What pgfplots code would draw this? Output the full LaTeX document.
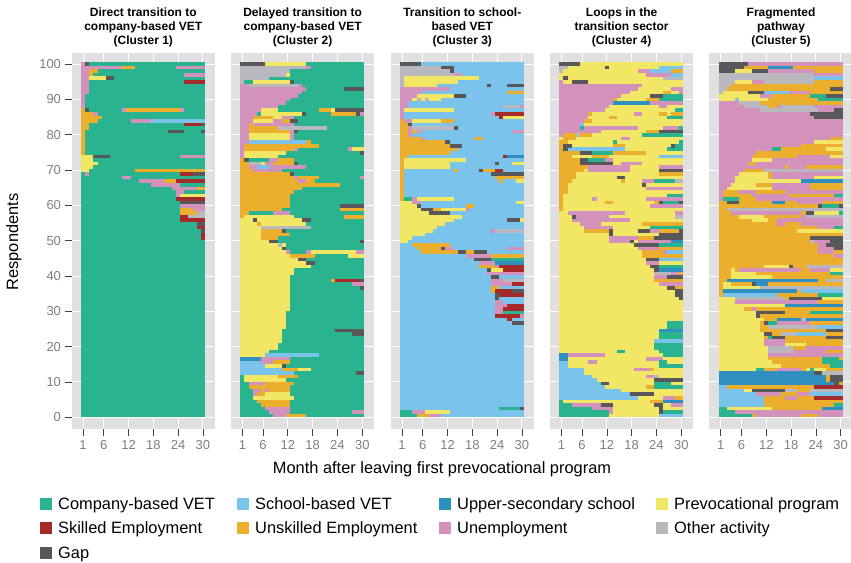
\documentclass[border=0pt]{standalone}
\usepackage{fontspec}
\setmainfont{Liberation Sans}
\usepackage{pgfplots}
\pgfplotsset{compat=1.18}

\definecolor{cv}{HTML}{2AB38F}
\definecolor{sv}{HTML}{7AC4EB}
\definecolor{us}{HTML}{2E8FC0}
\definecolor{pp}{HTML}{F2E665}
\definecolor{se}{HTML}{A52A2A}
\definecolor{ue}{HTML}{EBAF2D}
\definecolor{un}{HTML}{D292BB}
\definecolor{oa}{HTML}{B8B8BE}
\definecolor{gp}{HTML}{58585A}
\definecolor{panelbg}{HTML}{E0E0E0}
\definecolor{ticktxt}{HTML}{7F7F7F}

% one table row: respondent row, first month edge, last month edge
\newcommand\seg[2]{\addplot[forget plot,draw=none,no marks,
    error bars/.cd,x dir=plus,x explicit,error mark=none,
    error bar style={draw=#1,line width=3.62pt}]
  table[row sep=\\,header=false,x index=1,y index=0,
    x error plus expr=\thisrowno{2}-\thisrowno{1}] {#2};}
\newcommand\base[3]{\addplot[forget plot,fill=#1,draw=none] coordinates {(0,#2)(30,#2)(30,#3)(0,#3)} --cycle;}

\pgfplotsset{
  panel/.style={
    scale only axis,width=143.6pt,height=376.2pt,anchor=south west,
    xmin=-2.3,xmax=32.44,ymin=-2.71,ymax=103.26,
    axis background/.style={fill=panelbg},
    axis line style={draw=none},
    grid=major,major grid style={white,line width=1pt},
    xtick={0.5,5.5,11.5,17.5,23.5,29.5},xticklabels={1,6,12,18,24,30},
    ytick={0.5,10.45,20.4,30.35,40.3,50.25,60.2,70.15,80.1,90.05,100},
    tick align=outside,xtick pos=bottom,ytick pos=left,
    major tick length=7pt,
    tick style={color=black!75,line width=0.7pt},
    tick label style={font=\fontsize{13}{15}\selectfont,text=ticktxt},
    xticklabel style={yshift=-1pt},
    /pgf/number format/assume math mode=true,
    title style={align=center,font=\bfseries\fontsize{12}{14}\selectfont,
      anchor=south,at={(axis description cs:0.5,1)},yshift=-4pt},
  },
  inner/.style={yticklabels={},y tick style={draw=none}},
}

\begin{document}
\begin{tikzpicture}[x=1pt,y=1pt]
\path[use as bounding box] (0,0) rectangle (851,-562);

\begin{axis}[panel,at={(71.5pt,-428.7pt)},
  yticklabels={0,10,20,30,40,50,60,70,80,90,100},
  title={Direct transition to\\company-based VET\\(Cluster 1)}]
\base{cv}{0.5}{100.5}
\seg{un}{100 0 1\\99 0 10\\99 23 30\\98 0 2\\97 0 2\\97 25 30\\96 0 2\\95 0 2\\94 0 2\\93 0 2\\92 0 2\\91 0 1\\90 0 1\\89 0 1\\88 0 1\\87 10 11\\87 24 25\\86 3 4\\84 12 17\\74 24 30\\69 1 2\\68 10 12\\67 14 20\\66 17 24\\65 22 28\\64 23 25\\63 23 24\\60 24 30\\59 27 30\\}
\seg{ue}{99 10 13\\98 2 4\\97 2 3\\87 0 1\\87 11 24\\86 0 3\\85 0 5\\84 0 4\\83 0 2\\82 0 2\\81 0 1\\80 0 1\\79 0 1\\78 0 1\\77 0 1\\76 0 1\\75 0 1\\70 13 30\\67 20 23\\65 28 30\\59 24 27\\58 24 28\\}
\seg{pp}{96 2 6\\74 0 3\\73 0 3\\72 0 4\\71 0 3\\70 0 2\\63 24 30\\}
\seg{sv}{84 17 30\\}
\seg{oa}{58 28 30\\57 26 30\\}
\seg{se}{95 25 30\\83 25 29\\69 24 27\\67 23 30\\62 23 30\\57 24 26\\56 24 30\\54 28 30\\52 29 30\\51 29 30\\}
\seg{gp}{100 1 2\\96 6 8\\87 1 2\\83 29 30\\81 21 25\\81 29 30\\74 3 7\\69 27 30\\61 24 30\\55 28 30\\53 29 30\\}
\end{axis}

\begin{axis}[panel,inner,at={(230.8pt,-428.7pt)},
  title={Delayed transition to\\company-based VET\\(Cluster 2)}]
\base{cv}{0.5}{100.5}
\seg{oa}{99 0 16\\98 0 12\\97 0 11\\96 0 7\\95 0 1\\94 2 14\\82 9 21\\72 2 5\\54 5 17\\49 9 10\\}
\seg{un}{99 16 17\\94 0 2\\94 14 15\\93 0 16\\92 0 15\\91 0 14\\90 0 12\\89 0 11\\88 0 9\\87 0 5\\86 0 4\\86 29 30\\85 0 3\\85 10 13\\84 0 3\\84 8 10\\83 0 2\\83 3 13\\82 0 2\\81 0 2\\81 12 13\\80 0 2\\80 12 13\\79 0 2\\79 12 13\\78 0 2\\77 0 1\\76 0 1\\76 13 14\\76 26 27\\75 0 1\\74 0 1\\73 7 9\\72 6 8\\71 2 4\\71 7 16\\70 3 10\\68 13 14\\68 29 30\\67 14 16\\58 8 12\\47 11 12\\47 16 17\\47 28 30\\38 27 30\\17 5 12\\16 5 8\\10 2 6\\8 3 5\\8 6 7\\7 3 4\\3 6 12\\2 7 12\\2 27 30\\1 8 11\\}
\seg{ue}{87 19 22\\86 22 28\\85 3 8\\84 10 12\\83 2 3\\82 2 9\\81 2 12\\78 16 17\\77 1 19\\76 1 13\\73 0 1\\73 9 13\\72 0 2\\72 8 13\\71 0 2\\70 0 3\\69 0 12\\68 0 13\\68 14 19\\67 0 14\\67 16 18\\66 0 24\\65 0 15\\64 0 13\\63 0 12\\62 0 12\\61 0 12\\60 0 12\\59 0 10\\59 24 30\\58 0 2\\57 0 1\\57 25 30\\55 4 5\\53 5 10\\52 5 12\\51 5 9\\46 12 18\\39 22 23\\16 8 12\\14 10 14\\12 9 14\\10 6 13\\9 2 12\\8 5 6\\8 7 12\\7 4 6\\5 4 12\\4 5 12\\1 11 16\\}
\seg{pp}{100 6 16\\97 11 12\\95 3 12\\87 5 9\\87 22 23\\86 5 15\\85 8 10\\84 3 8\\80 2 12\\79 2 12\\76 27 30\\75 1 11\\74 1 9\\72 5 6\\57 1 13\\56 0 3\\56 4 15\\55 0 4\\55 5 16\\54 0 5\\53 0 5\\52 0 5\\51 0 5\\50 0 7\\49 0 9\\49 10 11\\48 0 10\\47 0 11\\47 17 28\\46 0 12\\46 26 30\\45 0 14\\44 0 16\\43 0 17\\42 0 13\\41 0 13\\40 0 12\\39 0 12\\38 0 12\\37 0 12\\36 0 12\\35 0 12\\34 0 12\\33 0 12\\32 0 12\\31 0 12\\30 0 11\\29 0 11\\28 0 11\\27 0 11\\26 0 11\\25 0 10\\24 0 10\\23 0 10\\22 0 10\\21 0 9\\20 0 9\\19 0 7\\18 0 6\\15 6 10\\14 14 17\\12 1 9\\11 1 11\\7 6 12\\6 3 13\\}
\seg{sv}{78 2 16\\71 4 7\\18 6 19\\16 0 5\\15 0 6\\14 0 10\\13 0 13\\}
\seg{us}{17 0 5\\}
\seg{se}{39 23 29\\}
\seg{cv}{95 1 3\\86 4 5\\73 2 7\\58 2 8\\}
\seg{gp}{100 0 6\\95 12 13\\93 25 30\\87 23 30\\86 15 16\\86 28 29\\84 12 14\\81 13 14\\75 29 30\\73 1 2\\72 13 14\\69 12 13\\60 24 30\\56 3 4\\56 15 17\\53 10 11\\50 7 9\\50 29 30\\48 10 11\\45 14 16\\44 16 18\\39 29 30\\37 29 30\\25 23 30\\24 27 30\\15 10 11\\13 28 30\\}
\end{axis}

\begin{axis}[panel,inner,at={(390.5pt,-428.7pt)},
  title={Transition to school-\\based VET\\(Cluster 3)}]
\base{sv}{0.5}{100.5}
\seg{oa}{99 0 10\\98 0 12\\97 0 13\\96 0 1\\95 0 1\\94 0 1\\90 4 5\\90 6 7\\88 25 29\\82 3 13\\53 23 30\\39 25 30\\}
\seg{un}{97 13 15\\93 0 12\\92 0 5\\91 0 4\\90 0 3\\89 0 2\\88 0 2\\88 29 30\\87 0 1\\86 0 1\\86 22 23\\85 0 1\\84 1 3\\82 2 3\\81 2 3\\81 4 5\\81 27 30\\80 2 3\\79 5 6\\62 3 4\\61 3 5\\59 16 17\\53 22 23\\48 11 13\\48 26 30\\46 16 22\\44 19 23\\43 23 24\\41 21 30\\39 22 25\\38 22 27\\33 23 25\\32 23 26\\31 23 25\\30 23 25\\29 29 30\\2 3 6\\1 7 10\\}
\seg{ue}{92 26 30\\84 0 1\\84 10 13\\83 0 2\\82 0 2\\81 0 2\\81 3 4\\80 0 2\\79 0 5\\79 18 20\\78 0 11\\77 0 12\\76 0 14\\75 0 12\\74 0 2\\73 0 1\\72 0 1\\71 0 1\\70 0 1\\70 13 14\\70 20 23\\69 0 1\\68 0 1\\68 23 30\\67 0 1\\67 24 25\\66 0 1\\65 0 1\\64 0 1\\63 0 1\\62 0 1\\60 16 18\\59 8 10\\49 3 12\\48 4 10\\47 5 14\\47 16 18\\46 22 30\\43 19 23\\37 22 24\\36 22 23\\1 4 7\\}
\seg{pp}{96 1 19\\95 1 14\\94 1 9\\91 4 13\\90 3 4\\90 5 6\\90 7 10\\87 1 13\\85 25 30\\84 3 10\\73 1 16\\72 1 12\\72 27 30\\71 1 12\\67 28 30\\62 4 13\\61 0 3\\61 28 30\\60 0 4\\59 0 5\\59 10 16\\58 0 7\\57 0 15\\56 0 13\\56 29 30\\55 0 11\\54 0 9\\53 0 8\\52 0 6\\51 0 3\\50 0 2\\42 22 25\\2 6 12\\}
\seg{se}{86 23 30\\85 24 25\\74 25 26\\70 23 25\\43 24 30\\42 25 30\\38 27 30\\36 23 27\\35 24 30\\32 26 30\\31 25 30\\29 23 29\\28 26 27\\}
\seg{us}{74 26 30\\44 23 30\\}
\seg{cv}{62 1 3\\45 22 30\\30 25 30\\3 24 29\\2 0 3\\1 0 4\\}
\seg{gp}{100 0 5\\99 10 13\\98 12 13\\94 21 22\\94 26 30\\91 13 16\\83 2 3\\82 13 14\\78 11 12\\77 12 15\\72 23 24\\70 19 20\\69 22 30\\60 4 5\\59 5 8\\58 7 12\\56 26 29\\48 10 11\\47 14 16\\47 18 21\\45 18 22\\42 21 22\\40 22 24\\36 27 30\\35 23 24\\34 23 24\\27 27 30\\3 29 30\\}
\end{axis}

\begin{axis}[panel,inner,at={(549.8pt,-428.7pt)},
  title={Loops in the\\transition sector\\(Cluster 4)}]
\base{pp}{0.5}{100.5}
\seg{oa}{99 0 2\\98 0 1\\96 25 30\\80 4 5\\67 28 30\\57 28 30\\41 23 27\\12 23 24\\}
\seg{un}{98 19 22\\97 21 27\\95 0 1\\94 0 20\\93 0 19\\93 27 30\\92 0 17\\92 29 30\\91 0 15\\90 0 13\\89 0 13\\89 22 30\\88 0 12\\88 24 26\\87 0 11\\86 0 7\\86 18 20\\85 0 7\\84 0 6\\83 0 5\\82 0 5\\82 6 19\\82 25 29\\81 0 10\\80 0 1\\79 15 17\\73 11 13\\72 15 20\\71 7 17\\71 24 30\\70 7 17\\67 20 23\\65 21 30\\62 8 9\\62 21 30\\60 22 30\\58 2 16\\58 28 30\\57 4 12\\56 3 17\\55 5 10\\54 6 13\\53 22 24\\51 12 19\\50 12 17\\50 19 27\\48 19 24\\47 25 26\\44 21 24\\41 27 29\\40 23 26\\38 24 30\\18 2 11\\17 21 25\\16 7 9\\14 18 22\\12 21 23\\6 25 28\\4 3 10\\4 27 30\\3 8 13\\2 12 13\\}
\seg{ue}{98 27 30\\92 25 27\\90 13 14\\90 21 24\\86 7 8\\86 24 26\\86 27 30\\85 12 14\\84 6 8\\81 21 24\\80 1 4\\80 5 8\\79 1 4\\78 0 2\\77 0 1\\77 13 16\\76 0 1\\75 0 5\\75 13 21\\74 0 3\\74 8 12\\73 0 5\\72 0 5\\71 0 7\\70 0 6\\69 0 4\\69 24 30\\68 0 4\\67 0 3\\67 15 16\\66 0 2\\65 0 2\\64 0 2\\63 0 1\\62 0 1\\61 0 1\\61 11 13\\61 23 24\\60 0 1\\59 0 1\\55 20 30\\53 6 12\\53 24 29\\51 19 23\\48 24 30\\47 20 25\\46 20 30\\41 29 30\\39 23 30\\37 28 30\\14 22 23\\9 21 23\\6 28 30\\5 22 25\\}
\seg{cv}{91 25 30\\90 24 30\\87 28 30\\85 26 30\\82 5 6\\82 29 30\\80 20 30\\78 13 14\\78 29 30\\77 28 30\\76 26 30\\75 8 13\\73 7 11\\67 23 28\\63 26 30\\61 25 29\\54 22 30\\49 24 30\\43 24 30\\27 26 30\\26 26 30\\24 24 30\\23 24 30\\21 23 30\\20 23 30\\19 24 30\\19 14 16\\18 25 30\\16 24 26\\15 24 30\\10 23 27\\9 23 30\\5 0 1\\4 0 3\\3 0 8\\2 0 12\\2 25 30\\1 0 12\\}
\seg{sv}{99 24 30\\98 22 27\\97 27 30\\83 5 6\\76 2 16\\74 24 30\\47 26 30\\45 24 30\\22 23 30\\16 0 2\\15 0 2\\14 0 6\\13 0 6\\12 0 8\\11 0 9\\10 0 10\\9 0 11\\8 0 15\\7 0 17\\6 0 19\\1 24 30\\}
\seg{us}{89 13 22\\50 27 30\\42 24 30\\25 24 30\\18 0 2\\17 0 2\\5 25 30\\}
\seg{gp}{100 0 5\\99 11 12\\96 1 2\\95 3 7\\91 22 25\\81 24 30\\77 1 3\\77 27 28\\76 1 2\\75 5 8\\73 5 7\\72 5 13\\70 24 30\\68 14 16\\66 20 21\\61 24 25\\61 29 30\\57 3 4\\53 12 13\\53 19 22\\53 29 30\\52 12 13\\52 24 30\\51 23 30\\50 17 18\\49 18 24\\45 21 24\\43 22 24\\42 23 24\\40 26 30\\37 26 28\\36 28 30\\35 28 30\\34 29 30\\11 23 30\\10 10 12\\7 17 23\\4 10 13\\4 23 25\\3 24 25\\2 24 25\\}
\end{axis}

\begin{axis}[panel,inner,at={(709.2pt,-428.7pt)},
  title={Fragmented\\pathway\\(Cluster 5)}]
\base{un}{57.5}{100.5}
\base{ue}{0.5}{57.5}
\seg{oa}{97 0 23\\96 0 23\\95 0 4\\95 11 23\\94 0 3\\93 0 2\\92 0 1\\89 5 10\\88 6 12\\88 15 23\\87 10 24\\70 11 30\\59 2 30\\57 21 30\\50 22 23\\43 21 30\\39 26 30\\37 10 30\\34 4 16\\28 20 21\\26 12 24\\24 15 19\\20 12 18\\19 12 18\\13 25 30\\8 16 19\\8 22 30\\}
\seg{un}{98 12 23\\95 8 11\\92 17 22\\57 20 21\\56 14 30\\55 14 16\\55 20 30\\54 24 28\\50 23 27\\49 24 26\\48 24 28\\47 24 28\\46 28 30\\42 5 20\\42 22 27\\33 4 24\\31 8 9\\27 14 22\\22 11 16\\21 11 16\\20 21 30\\19 18 26\\18 12 30\\14 14 20\\7 9 15\\7 19 22\\6 16 19\\2 4 30\\1 9 20\\1 24 30\\}
\seg{ue}{99 6 12\\99 18 30\\98 23 30\\95 23 30\\94 3 30\\93 2 27\\92 22 30\\91 13 22\\90 12 24\\89 10 30\\88 12 14\\79 27 30\\77 20 30\\76 15 26\\75 9 30\\74 8 19\\72 7 9\\71 16 17\\71 21 30\\70 6 11\\69 12 13\\68 12 13\\66 9 13\\66 22 30\\65 22 30\\64 1 5\\64 9 16\\63 1 8\\63 17 28\\62 5 9\\61 0 2\\61 5 13\\61 16 19\\61 25 30\\60 0 24\\59 0 2\\58 0 3\\58 20 21\\}
\seg{pp}{98 4 8\\95 4 8\\92 1 7\\91 0 10\\90 0 4\\90 5 12\\78 23 30\\76 26 30\\74 27 30\\73 8 13\\69 5 12\\68 4 12\\68 23 30\\67 4 20\\66 3 9\\65 2 13\\58 23 29\\57 5 11\\56 8 12\\53 19 30\\43 11 17\\42 3 4\\42 27 30\\41 3 9\\40 3 13\\38 1 3\\37 1 10\\34 0 4\\34 25 30\\33 0 4\\32 0 16\\31 0 6\\30 0 9\\29 0 9\\28 0 11\\27 0 10\\26 0 10\\25 0 10\\24 0 11\\23 0 11\\22 0 11\\21 0 11\\21 16 21\\20 0 12\\19 0 12\\18 0 12\\17 0 12\\16 0 13\\15 0 15\\14 0 9\\14 21 22\\14 23 26\\8 6 8\\3 2 13\\}
\seg{us}{99 12 18\\67 20 30\\61 13 16\\39 2 24\\38 9 12\\36 1 19\\32 16 30\\28 14 20\\28 21 30\\13 0 23\\12 0 26\\11 0 26\\10 0 28\\3 25 30\\}
\seg{sv}{96 23 30\\92 11 17\\90 4 5\\36 20 30\\35 1 14\\26 24 30\\24 19 26\\9 0 2\\8 0 6\\7 0 9\\7 22 30\\6 0 11\\5 0 11\\4 0 11\\}
\seg{cv}{91 22 26\\90 24 30\\76 13 15\\63 28 30\\62 1 5\\60 25 29\\58 29 30\\54 28 30\\41 27 30\\35 24 30\\30 22 30\\27 12 14\\23 12 13\\17 25 29\\16 25 30\\15 27 30\\14 9 11\\14 22 23\\4 28 30\\3 0 2\\2 0 4\\1 0 8\\}
\seg{se}{9 23 30\\6 23 30\\}
\seg{gp}{100 0 7\\99 0 6\\98 0 4\\98 8 12\\93 27 30\\92 7 11\\91 26 30\\87 28 30\\86 22 30\\85 23 30\\61 2 5\\60 24 25\\60 29 30\\58 21 23\\51 22 30\\50 27 30\\49 26 30\\48 28 30\\43 17 18\\38 8 9\\34 17 25\\30 9 16\\29 9 10\\27 11 12\\25 26 30\\24 11 13\\23 13 16\\23 26 30\\13 23 25\\12 27 30\\11 27 30\\10 28 29\\8 8 16\\}
\end{axis}

% axis titles
\node[font=\fontsize{16.4}{19}\selectfont,rotate=90] at (14,-242) {Respondents};
\node[font=\fontsize{16.4}{19}\selectfont] at (442,-469) {Month after leaving first prevocational program};

% legend
\foreach \x/\y/\c/\t in {
  40/503.5/cv/Company-based VET,237/503.5/sv/School-based VET,
  439/503.5/us/Upper-secondary school,656/503.5/pp/Prevocational program,
  40/528/se/Skilled Employment,237/528/ue/Unskilled Employment,
  439/528/un/Unemployment,656/528/oa/Other activity,
  40/553/gp/Gap}{
  \fill[\c] (\x,-\y-6) rectangle (\x+12,-\y+6);
  \node[anchor=base west,inner sep=0pt,font=\fontsize{16.4}{19}\selectfont] at (\x+18,-\y-5.5) {\t};
}
\end{tikzpicture}
\end{document}
